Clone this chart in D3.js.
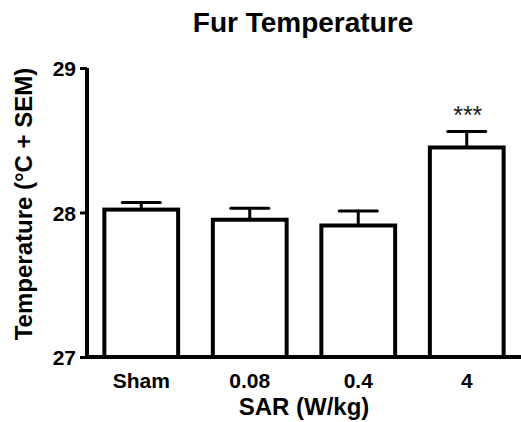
<!DOCTYPE html>
<html>
<head>
<meta charset="utf-8">
<script src="https://cdn.jsdelivr.net/npm/d3@7"></script>
<style>
  body { margin: 0; background: #fff; }
  text { font-family: "Liberation Sans", Arial, sans-serif; font-weight: bold; }
</style>
</head>
<body>
<svg id="chart" width="521" height="422"></svg>
<script>
// data
var groups = ["Sham", "0.08", "0.4", "4"];
var means = [28.02, 27.95, 27.91, 28.45];
var sems = [0.05, 0.08, 0.10, 0.11];
var stars = ["", "", "", "***"];
var yTicks = [27, 28, 29];

var svg = d3.select("#chart"),
    margin = {top: 68, right: 0, bottom: 65, left: 87},
    width = +svg.attr("width") - margin.left - margin.right,
    height = +svg.attr("height") - margin.top - margin.bottom,
    g = svg.append("g").attr("transform", "translate(" + margin.left + "," + margin.top + ")");

var data = groups.map(function(d, i) { return {group: d, mean: means[i], sem: sems[i], star: stars[i]}; });

var x = d3.scaleBand()
    .domain(groups)
    .range([0, width])
    .paddingInner(0.32)
    .paddingOuter(0.16);

var y = d3.scaleLinear()
    .domain([27, 29])
    .range([height, 0]);

// bars
g.selectAll(".bar")
  .data(data)
  .enter().append("rect")
    .attr("class", "bar")
    .attr("x", function(d) { return x(d.group); })
    .attr("y", function(d) { return y(d.mean); })
    .attr("width", x.bandwidth())
    .attr("height", function(d) { return y(27) - y(d.mean); })
    .attr("fill", "#fff")
    .attr("stroke", "#000")
    .attr("stroke-width", 4);

// error bars (upper only)
var err = g.selectAll(".err")
  .data(data)
  .enter().append("g")
    .attr("class", "err")
    .attr("stroke", "#000")
    .attr("stroke-width", 3)
    .attr("stroke-linecap", "round");

err.append("line")
    .attr("x1", function(d) { return x(d.group) + x.bandwidth() / 2; })
    .attr("x2", function(d) { return x(d.group) + x.bandwidth() / 2; })
    .attr("y1", function(d) { return y(d.mean); })
    .attr("y2", function(d) { return y(d.mean + d.sem); });

err.append("line")
    .attr("x1", function(d) { return x(d.group) + x.bandwidth() / 2 - 19; })
    .attr("x2", function(d) { return x(d.group) + x.bandwidth() / 2 + 19; })
    .attr("y1", function(d) { return y(d.mean + d.sem); })
    .attr("y2", function(d) { return y(d.mean + d.sem); });

// significance stars
g.selectAll(".star")
  .data(data)
  .enter().append("text")
    .attr("class", "star")
    .attr("x", function(d) { return x(d.group) + x.bandwidth() / 2 + 1; })
    .attr("y", function(d) { return y(d.mean + d.sem) - 8; })
    .attr("text-anchor", "middle")
    .attr("font-size", 25)
    .attr("font-weight", "normal")
    .style("font-weight", "normal")
    .attr("fill", "#222")
    .text(function(d) { return d.star; });

// y axis
var yAxis = g.append("g")
    .call(d3.axisLeft(y).tickValues(yTicks).tickFormat(d3.format("d")).tickSize(7).tickPadding(4));
yAxis.select(".domain").attr("stroke-width", 4).attr("d", "M0," + y(29) + "V" + y(27));
yAxis.selectAll(".tick line").attr("stroke-width", 3);
yAxis.selectAll(".tick text").attr("font-size", 21).attr("fill", "#000").attr("dy", "0.36em")
    .style("font-family", "'Liberation Sans', Arial, sans-serif").style("font-weight", "bold");

// x axis
var xAxis = g.append("g")
    .attr("transform", "translate(0," + height + ")")
    .call(d3.axisBottom(x).tickSize(0).tickPadding(16));
xAxis.select(".domain").attr("stroke-width", 4).attr("d", "M-2,0H" + (width + 2));
xAxis.selectAll(".tick text").attr("font-size", 21).attr("fill", "#000")
    .style("font-family", "'Liberation Sans', Arial, sans-serif").style("font-weight", "bold");

// titles
svg.append("text")
    .attr("x", 303)
    .attr("y", 32)
    .attr("text-anchor", "middle")
    .attr("font-size", 28)
    .text("Fur Temperature");

svg.append("text")
    .attr("x", margin.left + width / 2)
    .attr("y", 415)
    .attr("text-anchor", "middle")
    .attr("font-size", 24)
    .text("SAR (W/kg)");

svg.append("text")
    .attr("transform", "translate(32,204) rotate(-90)")
    .attr("text-anchor", "middle")
    .attr("font-size", 24)
    .text("Temperature (°C + SEM)");
</script>
</body>
</html>
